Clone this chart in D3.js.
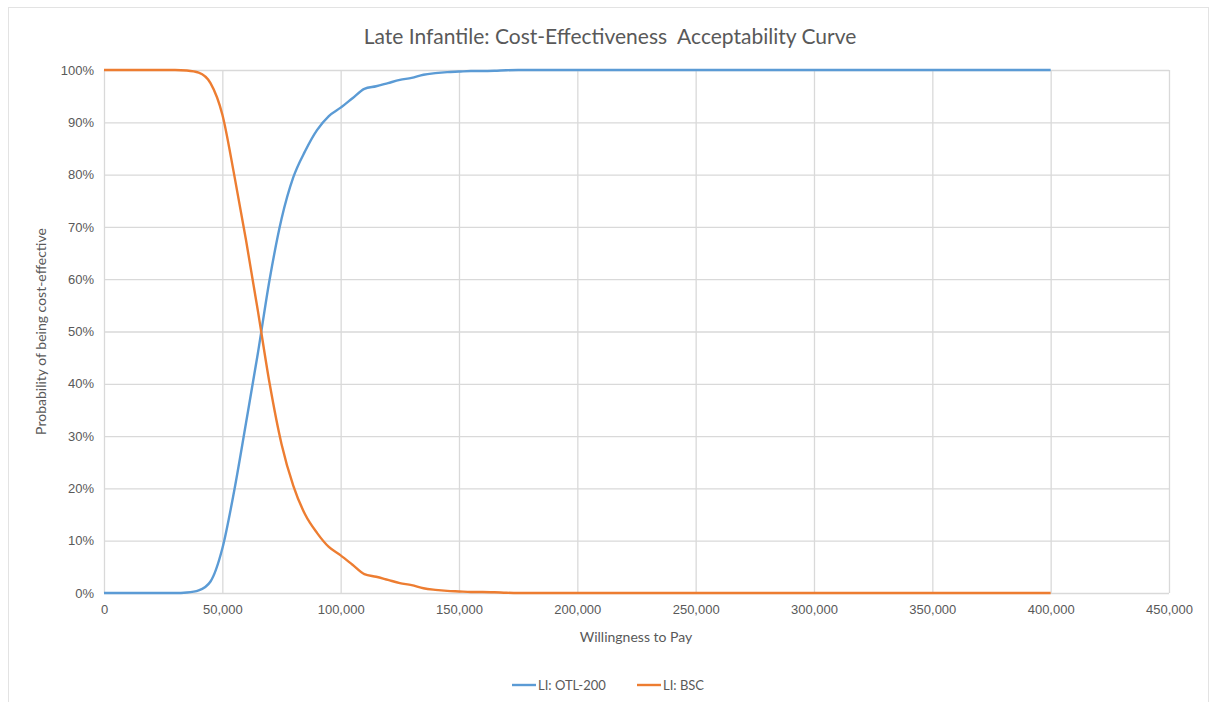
<!DOCTYPE html>
<html>
<head>
<meta charset="utf-8">
<script src="https://cdn.jsdelivr.net/npm/d3@7"></script>
<style>
  body { margin: 0; background: #fff; }
  svg { display: block; font-family: Lato, "Open Sans", sans-serif; }
  .tick text { fill: #595959; font-size: 13px; }
</style>
</head>
<body>
<script>
// willingness-to-pay points and probabilities (%)
const wtp = [0, 5000, 10000, 15000, 20000, 25000, 30000, 35000, 40000, 45000, 50000,
  55000, 60000, 65000, 70000, 75000, 80000, 85000, 90000, 95000, 100000,
  105000, 110000, 115000, 120000, 125000, 130000, 135000, 140000, 145000, 150000,
  155000, 160000, 165000, 170000, 175000, 200000, 250000, 300000, 350000, 400000];
const otl200 = [0, 0, 0, 0, 0, 0, 0, 0.1, 0.5, 2.2, 8.5,
  19.5, 32.5, 45.8, 60, 71.5, 79.5, 84.5, 88.5, 91.2, 92.8,
  94.6, 96.4, 96.9, 97.5, 98.1, 98.5, 99.1, 99.4, 99.6, 99.7,
  99.8, 99.8, 99.85, 99.95, 100, 100, 100, 100, 100, 100];
const bsc = [100, 100, 100, 100, 100, 100, 100, 99.9, 99.5, 97.5, 91.5,
  80, 67.5, 54, 40, 28.5, 20.5, 15, 11.5, 8.8, 7.2,
  5.4, 3.6, 3.1, 2.5, 1.9, 1.5, 0.9, 0.6, 0.4, 0.3,
  0.2, 0.2, 0.15, 0.05, 0, 0, 0, 0, 0, 0];
const xTicks = [0, 50000, 100000, 150000, 200000, 250000, 300000, 350000, 400000, 450000];
const yTicks = [0, 10, 20, 30, 40, 50, 60, 70, 80, 90, 100];
const seriesNames = ["LI: OTL-200", "LI: BSC"];
const colors = ["#5b9bd5", "#ed7d31"];

const W = 1211, H = 702;
const m = { left: 104, right: 1169, top: 70, bottom: 593 };

const svg = d3.select('body').append('svg')
  .attr('width', W)
  .attr('height', H);

// outer chart frame
svg.append('rect')
  .attr('x', 8.5).attr('y', 7.5)
  .attr('width', 1200).attr('height', 720)
  .attr('fill', '#fff')
  .attr('stroke', '#e3e3e3');

const x = d3.scaleLinear().domain([0, 450000]).range([m.left, m.right]);
const y = d3.scaleLinear().domain([0, 100]).range([m.bottom, m.top]);

const fmt = d3.format(',');

// horizontal grid + y labels
svg.append('g')
  .attr('transform', `translate(${m.left},0)`)
  .call(d3.axisLeft(y).tickValues(yTicks).tickSize(-(m.right - m.left)).tickPadding(10).tickFormat(d => d + '%'))
  .call(g => g.select('.domain').remove())
  .call(g => g.selectAll('.tick line').attr('stroke', '#d9d9d9').attr('stroke-width', 1.3));

// vertical grid + x labels
svg.append('g')
  .attr('transform', `translate(0,${m.bottom})`)
  .call(d3.axisBottom(x).tickValues(xTicks).tickSize(-(m.bottom - m.top)).tickPadding(12).tickFormat(fmt))
  .call(g => g.select('.domain').remove())
  .call(g => g.selectAll('.tick line').attr('stroke', '#d9d9d9').attr('stroke-width', 1.3));

const line = d3.line()
  .x(d => x(d[0]))
  .y(d => y(d[1]))
  .curve(d3.curveMonotoneX);

[otl200, bsc].forEach((vals, i) => {
  svg.append('path')
    .datum(wtp.map((w, j) => [w, vals[j]]))
    .attr('fill', 'none')
    .attr('stroke', colors[i])
    .attr('stroke-width', 2.4)
    .attr('stroke-linejoin', 'round')
    .attr('d', line);
});

svg.append('text')
  .attr('x', 610).attr('y', 44)
  .attr('text-anchor', 'middle')
  .attr('fill', '#595959')
  .attr('xml:space', 'preserve')
  .style('font-size', '21px')
  .text('Late Infantile: Cost-Effectiveness  Acceptability Curve');

svg.append('text')
  .attr('x', 636).attr('y', 642)
  .attr('text-anchor', 'middle')
  .attr('fill', '#595959')
  .style('font-size', '14px')
  .text('Willingness to Pay');

svg.append('text')
  .attr('transform', `translate(46,${(m.top + m.bottom) / 2}) rotate(-90)`)
  .attr('text-anchor', 'middle')
  .attr('fill', '#595959')
  .style('font-size', '14px')
  .text('Probability of being cost-effective');

// legend
const legendX = [512, 637];
seriesNames.forEach((name, i) => {
  const g = svg.append('g').attr('transform', `translate(${legendX[i]},685)`);
  g.append('line').attr('x1', 0).attr('x2', 24).attr('stroke', colors[i]).attr('stroke-width', 2.4);
  g.append('text').attr('x', 26).attr('y', 4.5)
    .attr('fill', '#595959').style('font-size', '13px').text(name);
});
</script>
</body>
</html>
